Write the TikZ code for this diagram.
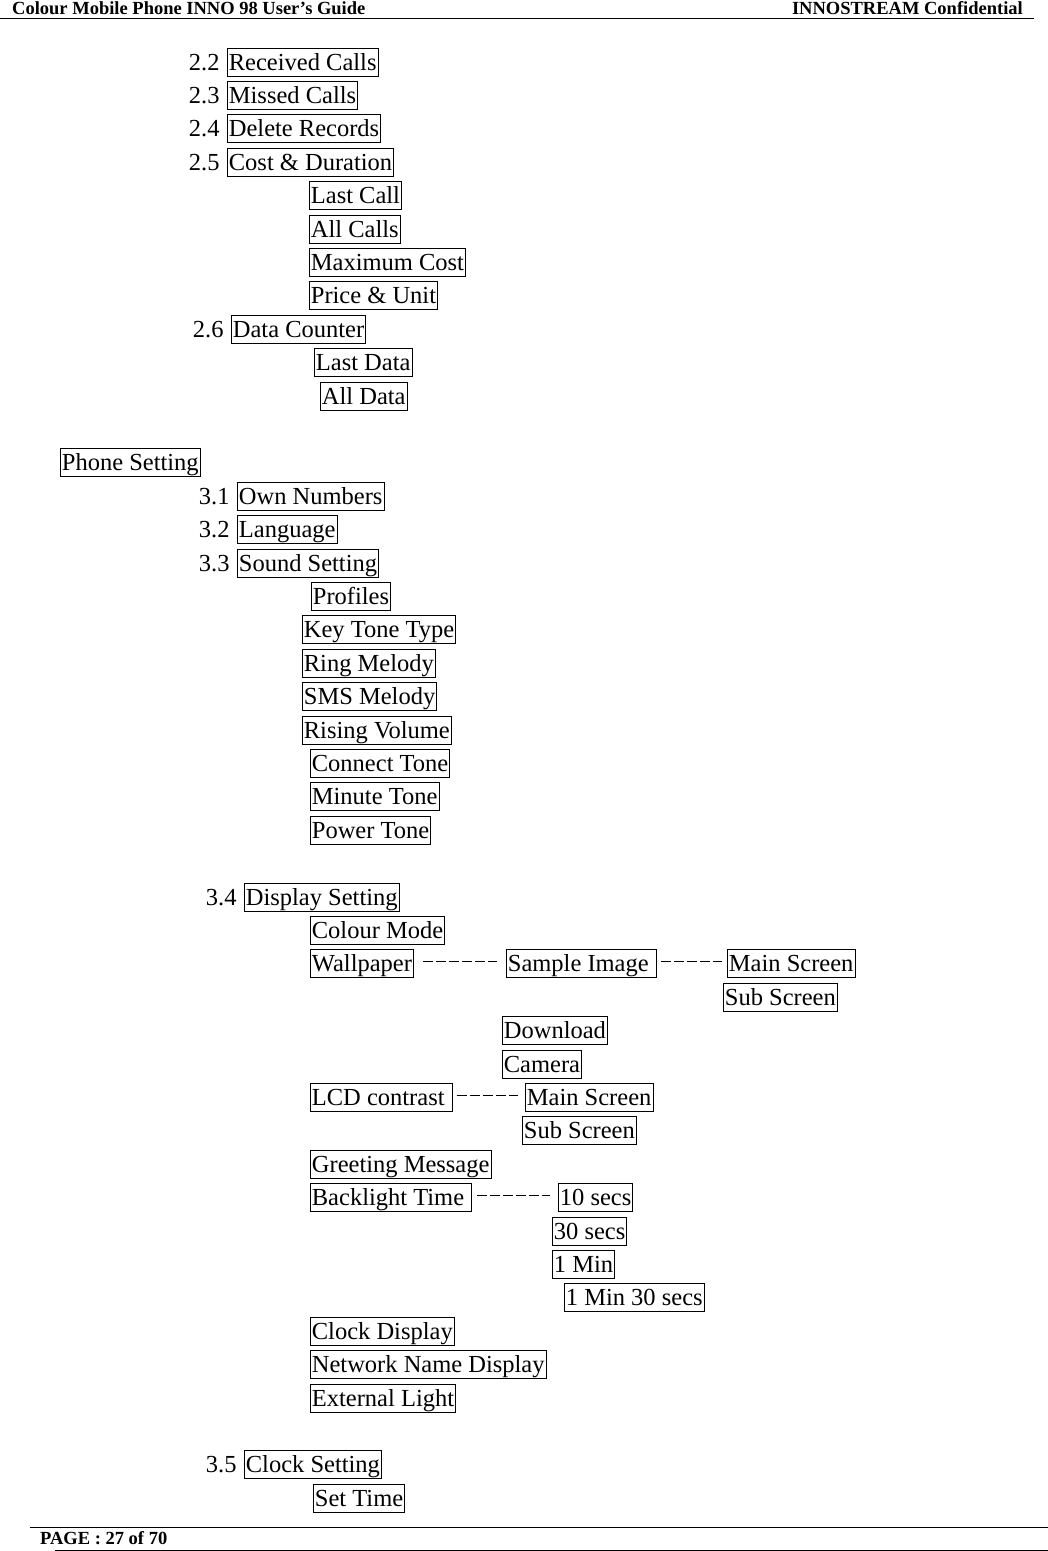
\documentclass[tikz,border=0pt]{standalone}
\usepackage{fontspec}
\setmainfont{Liberation Serif}
\usetikzlibrary{positioning}
\tikzset{
  % Menu entry in a box
  entry/.style={draw, line width=0.8pt, anchor=west, inner xsep=1.5pt,
    inner ysep=0pt, minimum height=28pt, text height=16.5pt,
    text depth=0.5pt, font=\fontsize{24.5}{28}\selectfont},
  % Menu number in front of an entry
  num/.style={entry, draw=none, inner xsep=0pt},
  % Dashed link between entries
  link/.style={dash pattern=on 10pt off 3pt, line width=1.2pt},
  % Header and footer
  pagetext/.style={font=\bfseries\fontsize{18.5}{20}\selectfont, inner sep=0pt},
}

\begin{document}
\begin{tikzpicture}[x=1pt, y=-1pt]
    \useasboundingbox (0,0) rectangle (1048,1551);

    % header
    \node[pagetext, anchor=base west] (title) at (12,14) {Colour Mobile Phone INNO 98 User’s Guide};
    \node[pagetext, anchor=base east] (conf) at (1023,14) {INNOSTREAM Confidential};
    \draw[line width=1pt] (0,18) -- (1034,18);

    % call records
    \node[entry] (rcall) at (227,62) {Received Calls};
    \node[num, left=7pt of rcall] (n22) {2.2};
    \node[entry] (mcall) at (227,95.4) {Missed Calls};
    \node[num, left=7pt of mcall] (n23) {2.3};
    \node[entry] (delrec) at (227,128.8) {Delete Records};
    \node[num, left=7pt of delrec] (n24) {2.4};
    \node[entry] (costdur) at (227,162.2) {Cost \& Duration};
    \node[num, left=7pt of costdur] (n25) {2.5};
    \node[entry] (lastcall) at (309,195.6) {Last Call};
    \node[entry] (allcalls) at (309,229) {All Calls};
    \node[entry] (maxcost) at (309,262.4) {Maximum Cost};
    \node[entry] (priceunit) at (309,295.8) {Price \& Unit};
    \node[entry] (datacnt) at (231,329.2) {Data Counter};
    \node[num, left=7pt of datacnt] (n26) {2.6};
    \node[entry] (lastdata) at (314,362.6) {Last Data};
    \node[entry] (alldata) at (320,396) {All Data};

    % phone setting
    \node[entry] (phoneset) at (60,462.8) {Phone Setting};
    \node[entry] (ownnum) at (237,496.2) {Own Numbers};
    \node[num, left=7pt of ownnum] (n31) {3.1};
    \node[entry] (lang) at (237,529.6) {Language};
    \node[num, left=7pt of lang] (n32) {3.2};
    \node[entry] (soundset) at (237,563) {Sound Setting};
    \node[num, left=7pt of soundset] (n33) {3.3};
    \node[entry] (profiles) at (311,596.4) {Profiles};
    \node[entry] (keytone) at (302,629.8) {Key Tone Type};
    \node[entry] (ringmel) at (302,663.2) {Ring Melody};
    \node[entry] (smsmel) at (302,696.6) {SMS Melody};
    \node[entry] (risevol) at (302,730) {Rising Volume};
    \node[entry] (conntone) at (310,763.4) {Connect Tone};
    \node[entry] (mintone) at (310,796.8) {Minute Tone};
    \node[entry] (powtone) at (310,830.2) {Power Tone};

    % display setting
    \node[entry] (dispset) at (244,897) {Display Setting};
    \node[num, left=7pt of dispset] (n34) {3.4};
    \node[entry] (colmode) at (310,930.4) {Colour Mode};
    \node[entry] (wallp) at (310,963.8) {Wallpaper};
    \node[entry] (sampimg) at (506,963.8) {Sample Image\ \null};
    \node[entry] (wmain) at (727,963.8) {Main Screen};
    \node[entry] (wsub) at (723,997.2) {Sub Screen};
    \node[entry] (download) at (502,1030.6) {Download};
    \node[entry] (camera) at (502,1064) {Camera};
    \node[entry] (lcd) at (310,1097.4) {LCD contrast\ \null};
    \node[entry] (lmain) at (525,1097.4) {Main Screen};
    \node[entry] (lsub) at (522,1130.8) {Sub Screen};
    \node[entry] (greet) at (310,1164.2) {Greeting Message};
    \node[entry] (backlt) at (310,1197.6) {Backlight Time\ \null};
    \node[entry] (s10) at (558,1197.6) {10 secs};
    \node[entry] (s30) at (552,1231) {30 secs};
    \node[entry] (m1) at (552,1264.4) {1 Min};
    \node[entry] (m130) at (564,1297.8) {1 Min 30 secs};
    \node[entry] (clockdisp) at (310,1331.2) {Clock Display};
    \node[entry] (netname) at (310,1364.6) {Network Name Display};
    \node[entry] (extlight) at (310,1398) {External Light};

    \draw[link, shorten <=9pt, shorten >=9pt] ([yshift=2pt]wallp.east) -- ([yshift=2pt]sampimg.west);
    \draw[link, shorten <=4pt, shorten >=5pt] ([yshift=2pt]sampimg.east) -- ([yshift=2pt]wmain.west);
    \draw[link, shorten <=4pt, shorten >=7pt] ([yshift=2pt]lcd.east) -- ([yshift=2pt]lmain.west);
    \draw[link, shorten <=5pt, shorten >=8pt] ([yshift=2pt]backlt.east) -- ([yshift=2pt]s10.west);

    % clock setting
    \node[entry] (clockset) at (244,1464.8) {Clock Setting};
    \node[num, left=7pt of clockset] (n35) {3.5};
    \node[entry] (settime) at (313,1498.2) {Set Time};

    % footer
    \draw[line width=1pt] (30,1527) -- (1048,1527);
    \node[pagetext, anchor=base west] (page) at (40,1544) {PAGE : 27 of 70};
    \draw[line width=1pt] (55,1550) -- (1048,1550);
\end{tikzpicture}
\end{document}
